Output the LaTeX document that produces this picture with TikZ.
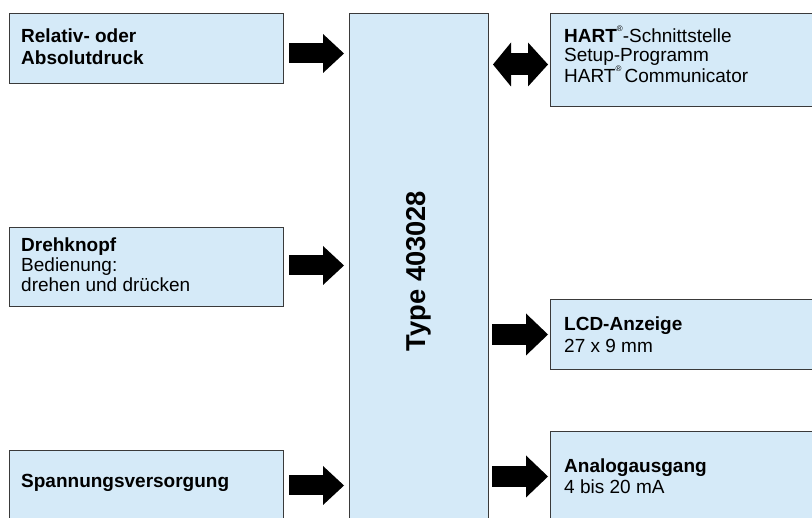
\documentclass[tikz,border=0pt]{standalone}
\usepackage{fontspec}
\setmainfont{Liberation Sans}
\usetikzlibrary{arrows.meta,calc}
\definecolor{boxfill}{HTML}{D5EAF8}
\definecolor{boxline}{HTML}{3A3A3A}
\newcommand{\regmark}{\raisebox{0.6em}{\fontsize{8}{8}\selectfont ®}}
\tikzset{
  box/.style={draw=boxline, fill=boxfill, line width=1pt, inner sep=0pt, anchor=north west},
  txt/.style={inner sep=0pt, anchor=base west, align=left, font=\fontsize{19}{21}\selectfont},
  fatarrow/.style={line width=20pt, draw=black, -{Triangle[length=21pt,width=39pt,line width=0pt]}},
  fatarrowR/.style={line width=21pt, draw=black, -{Triangle[length=22pt,width=42pt,line width=0pt]}},
  fatdouble/.style={line width=22pt, draw=black, {Triangle[length=18pt,width=44pt,line width=0pt]}-{Triangle[length=20pt,width=44pt,line width=0pt]}}
}
\begin{document}
\begin{tikzpicture}[x=1pt,y=-1pt]
\useasboundingbox (0,0) rectangle (812,518);
\clip (0,0) rectangle (812,518);
% boxes
\node[box, minimum width=274pt, minimum height=70pt] (b1) at (9,13) {};
\node[box, minimum width=274pt, minimum height=79pt] (b2) at (9,227) {};
\node[box, minimum width=274pt, minimum height=80pt] (b3) at (9,450) {};
\node[box, minimum width=139pt, minimum height=520pt] (ctr) at (349,13) {};
\node[box, minimum width=270pt, minimum height=93pt] (r1) at (550,13) {};
\node[box, minimum width=270pt, minimum height=70pt] (r2) at (550,299) {};
\node[box, minimum width=270pt, minimum height=100pt] (r3) at (550,431) {};
% texts (anchored at the baseline of the last line)
\node[txt, font=\fontsize{19}{22}\selectfont] (t1) at (21,65) {\textbf{Relativ- oder}\\\textbf{Absolutdruck}};
\node[txt, font=\fontsize{19}{20}\selectfont] (t2) at (21,292) {\textbf{Drehknopf}\\Bedienung:\\drehen und drücken};
\node[txt] (t3) at (21,488) {\textbf{Spannungsversorgung}};
\node[txt, font=\fontsize{19}{18.5}\selectfont] (t4) at (564,83) {\textbf{HART}\regmark-Schnittstelle\\Setup-Programm\\HART\regmark\,Communicator};
\node[txt, font=\fontsize{19}{22}\selectfont] (t5) at (564,353) {\textbf{LCD-Anzeige}\\27 x 9 mm};
\node[txt] (t6) at (564,494) {\textbf{Analogausgang}\\4 bis 20 mA};
\node[inner sep=0pt, rotate=90, font=\fontsize{27.3}{27}\selectfont\bfseries] (tc) at (419,271) {Type 403028};
% arrows
\coordinate (a1s) at ($(b1.east)+(5,5)$);
\coordinate (a1e) at ($(ctr.west |- a1s)+(-5,0)$);
\draw[fatarrow] (a1s) -- (a1e);
\coordinate (a2s) at ($(b2.east)+(5,-1.5)$);
\coordinate (a2e) at ($(ctr.west |- a2s)+(-5,0)$);
\draw[fatarrow] (a2s) -- (a2e);
\coordinate (a3s) at ($(b3.east)+(5,-5)$);
\coordinate (a3e) at ($(ctr.west |- a3s)+(-5,0)$);
\draw[fatarrow] (a3s) -- (a3e);
\coordinate (d1r) at ($(r1.west)+(-2,4.5)$);
\coordinate (d1l) at ($(ctr.east |- d1r)+(4,0)$);
\draw[fatdouble] (d1l) -- (d1r);
\coordinate (a4s) at ($(ctr.east |- r2.west)+(3,0)$);
\coordinate (a4e) at ($(r2.west)+(-2,0)$);
\draw[fatarrowR] (a4s) -- (a4e);
\coordinate (a5e) at ($(r3.west)+(-2,-5)$);
\coordinate (a5s) at ($(ctr.east |- a5e)+(3,0)$);
\draw[fatarrowR] (a5s) -- (a5e);
\end{tikzpicture}
\end{document}
